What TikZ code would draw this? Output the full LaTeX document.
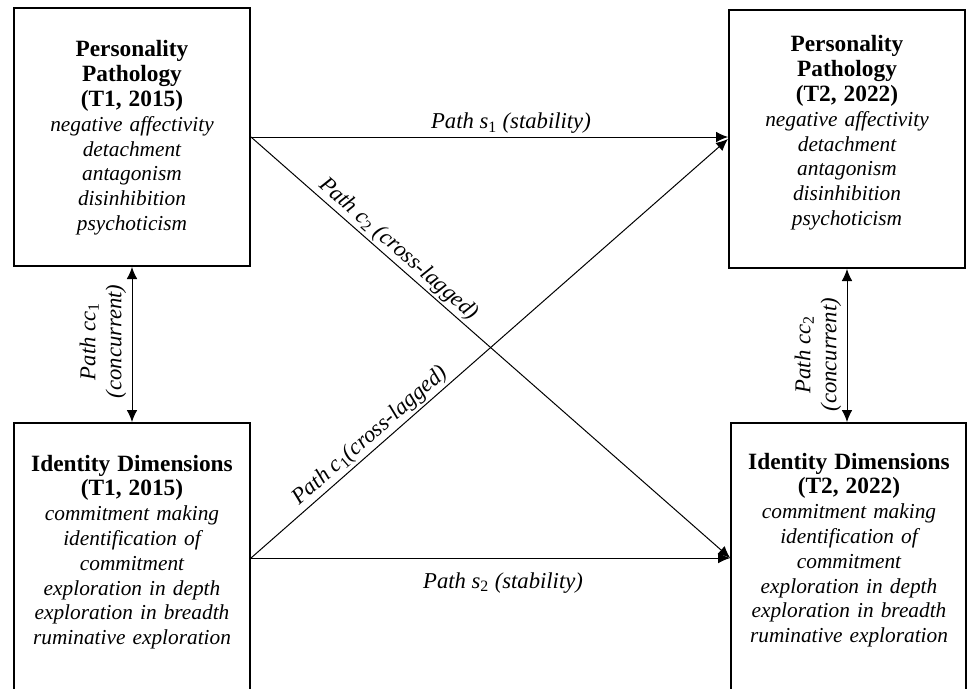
\documentclass[tikz,border=0pt]{standalone}
\usepackage{fontspec}
\setmainfont{Liberation Serif}
\usetikzlibrary{arrows.meta,calc}
\begin{document}
\begin{tikzpicture}[x=0.75pt,y=-0.75pt,
  box/.style={draw,line width=1.5pt,inner sep=0pt,minimum width=177pt},
  topbox/.style={box,minimum height=193.5pt},
  botbox/.style={box,minimum height=202.5pt},
  txt/.style={align=center,text width=175pt,inner sep=0pt,
    font=\fontsize{16}{18.6}\selectfont\itshape},
  ttl/.style={},
  lbl/.style={font=\fontsize{17}{19.5}\selectfont\itshape,align=center},
  conn/.style={line width=0.75pt,-{Latex[length=9pt,width=8pt]}},
  bicon/.style={line width=0.75pt,{Latex[length=9pt,width=8pt]}-{Latex[length=9pt,width=8pt]}}]
\path[use as bounding box,clip] (0,0) rectangle (968,689);
\fill[white] (0,0) rectangle (968,689);
\newcommand{\hd}[1]{{\upshape\bfseries\fontsize{17.5}{18.6}\selectfont #1}}
% boxes
\node[topbox] (TL) at (132,137) {};
\node[topbox] (TR) at (847,139) {};
\node[botbox] (BL) at (132,558) {};
\node[botbox,minimum width=176pt] (BR) at (848.5,558) {};
% texts
\node[txt] (TLt) at (132,138) {\hd{Personality}\\\hd{Pathology}\\\hd{(T1, 2015)}\\negative affectivity\\detachment\\antagonism\\disinhibition\\psychoticism};
\node[txt] (TRt) at (847,133) {\hd{Personality}\\\hd{Pathology}\\\hd{(T2, 2022)}\\negative affectivity\\detachment\\antagonism\\disinhibition\\psychoticism};
\node[txt] (BLt) at (132,552) {\hd{Identity Dimensions}\\\hd{(T1, 2015)}\\commitment making\\identification of\\commitment\\exploration in depth\\exploration in breadth\\ruminative exploration};
\node[txt] (BRt) at (849,550) {\hd{Identity Dimensions}\\\hd{(T2, 2022)}\\commitment making\\identification of\\commitment\\exploration in depth\\exploration in breadth\\ruminative exploration};
% connectors
\draw[conn] (TL.east) -- (TL.east -| TR.west)
  node[lbl,above,pos=0.545,inner sep=2pt] (ls1) {Path s\textsubscript{\upshape 1} (stability)};
\draw[conn] (BL.east) -- (BR.west)
  node[lbl,below=7pt,pos=0.526] (ls2) {Path s\textsubscript{\upshape 2} (stability)};
\draw[conn] (TL.east) -- (BR.west)
  node[lbl,sloped,above,pos=0.29,inner sep=1.5pt] (lc2) {Path c\textsubscript{\upshape 2} (cross-lagged)};
\draw[conn] (BL.east) -- (TR.west)
  node[lbl,sloped,above,pos=0.268,inner sep=1.5pt] (lc1) {Path c\textsubscript{\upshape 1}(cross-lagged)};
\draw[bicon] (TL.south) -- (BL.north)
  node[lbl,rotate=90,anchor=south,pos=0.48,inner sep=4pt] (lcc1) {Path cc\textsubscript{\upshape 1}\\(concurrent)};
\draw[bicon] (TR.south) -- (TR.south |- BR.north)
  node[lbl,rotate=90,anchor=south,pos=0.56,inner sep=4pt] (lcc2) {Path cc\textsubscript{\upshape 2}\\(concurrent)};
\end{tikzpicture}
\end{document}
